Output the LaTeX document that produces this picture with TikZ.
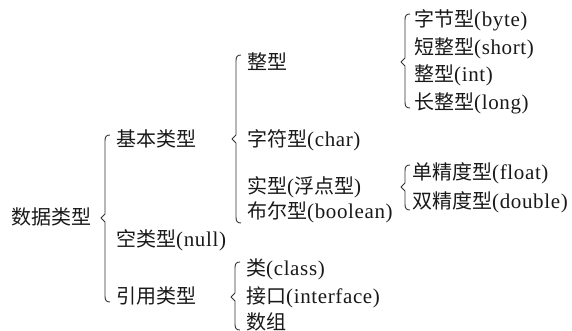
\documentclass[tikz,border=0pt]{standalone}
\usepackage{fontspec}
\setmainfont[LetterSpace=3]{Liberation Serif}
\newfontfamily\cjk{Noto Sans CJK SC}
\newcommand\zh[1]{{\cjk\fontsize{20}{22}\selectfont #1}}
\newcommand\brc[4]{% x, top, mid, bottom
  \draw[bracestyle] ({#1+5},#2) .. controls ({#1+1},#2) and (#1,{#2+2}) .. (#1,{#2+6})
    -- (#1,{#3-4}) -- ({#1-4},#3) -- (#1,{#3+4}) -- (#1,{#4-6})
    .. controls (#1,{#4-2}) and ({#1+1},#4) .. ({#1+5},#4);}
\tikzset{
  lbl/.style={anchor=west, inner sep=0pt, text=black!90,
    font=\fontsize{21}{23}\selectfont, text height=17.6pt, text depth=2.4pt},
  bracestyle/.style={draw=black!80, line width=0.9pt, line join=round}
}
\begin{document}
\begin{tikzpicture}[x=1pt,y=-1pt]
\useasboundingbox (0,0) rectangle (572,331);
% root
\node[lbl] (root) at (11,217) {\zh{数据类型}};
\brc{105}{135}{218}{302}
% level 1
\node[lbl] (basic) at (116,139) {\zh{基本类型}};
\node[lbl] (null) at (116,239) {\zh{空类型}(null)};
\node[lbl] (ref) at (116,296) {\zh{引用类型}};
% basic children
\brc{236}{55}{139}{223}
\node[lbl] (int) at (247,62) {\zh{整型}};
\node[lbl] (char) at (247,139) {\zh{字符型}(char)};
\node[lbl] (real) at (247,186) {\zh{实型}(\zh{浮点型})};
\node[lbl] (bool) at (247,211) {\zh{布尔型}(boolean)};
% integer children
\brc{405}{14}{62}{108}
\node[lbl] (byte) at (414,19) {\zh{字节型}(byte)};
\node[lbl] (short) at (414,47) {\zh{短整型}(short)};
\node[lbl] (iint) at (414,74) {\zh{整型}(int)};
\node[lbl] (long) at (414,102) {\zh{长整型}(long)};
% real children
\brc{405}{165}{187}{210}
\node[lbl] (float) at (412,172) {\zh{单精度型}(float)};
\node[lbl] (double) at (412,201) {\zh{双精度型}(double)};
% reference children
\brc{235}{262}{297}{330}
\node[lbl] (class) at (246,268) {\zh{类}(class)};
\node[lbl] (iface) at (246,296) {\zh{接口}(interface)};
\node[lbl] (array) at (246,322) {\zh{数组}};
\end{tikzpicture}
\end{document}
